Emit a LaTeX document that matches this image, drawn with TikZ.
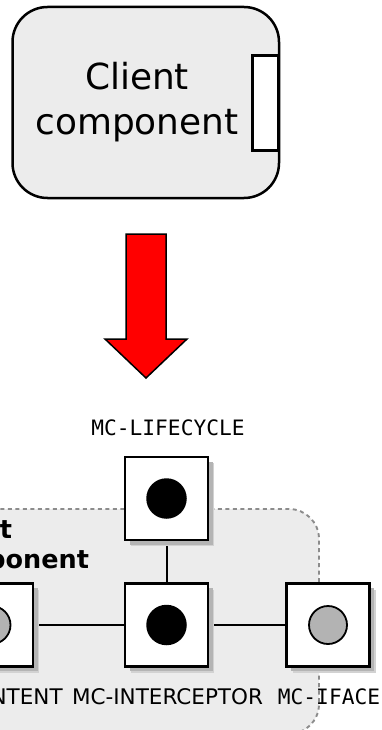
\documentclass[tikz,border=0pt]{standalone}
\usepackage{fontspec}
\setmainfont{DejaVu Sans}
\setmonofont{DejaVu Sans Mono}
\usetikzlibrary{shadows}
\definecolor{boxgray}{HTML}{ECECEC}
\definecolor{dotgray}{HTML}{B3B3B3}
\definecolor{shadowgray}{HTML}{B4B4B4}
\definecolor{dashgray}{HTML}{8C8C8C}
\definecolor{arrowred}{HTML}{FF0000}
\pgfdeclarelayer{region}
\pgfdeclarelayer{wires}
\pgfsetlayers{region,wires,main}
\tikzset{
  ctrlbox/.style={draw, line width=2.2pt, fill=white, minimum width=83pt,
    minimum height=83pt, inner sep=0pt,
    general shadow={fill=shadowgray!60, shadow xshift=6pt, shadow yshift=-6pt},
    general shadow={fill=shadowgray, shadow xshift=4.5pt, shadow yshift=-4.5pt}},
  blackdot/.style={circle, fill=black, minimum size=40.5pt, inner sep=0pt},
  graydot/.style={circle, draw, line width=1.8pt, fill=dotgray, minimum size=38pt, inner sep=0pt},
  wire/.style={line width=2pt},
  monolabel/.style={font=\ttfamily\fontsize{21.2}{25}\selectfont, anchor=base, inner sep=0pt},
  proplabel/.style={font=\fontsize{21.5}{25}\selectfont, anchor=base, inner sep=0pt},
}
\begin{document}
\begin{tikzpicture}[x=1pt, y=-1pt]
\useasboundingbox (0,0) rectangle (382,730);

% client component
\draw[line width=2.5pt, fill=boxgray, rounded corners=35pt] (12.5,7) rectangle (279,198);
\node[draw, line width=2.5pt, fill=white, minimum width=26pt, minimum height=95pt, inner sep=0pt]
  (port) at (265.5,103) {};
\node[font=\fontsize{35.9}{45}\selectfont, align=center, anchor=base, inner sep=0pt]
  (clientname) at (137,135) {Client\\component};

% transformation arrow
\draw[line width=1.5pt, fill=arrowred, line join=miter]
  (126,234) -- (166,234) -- (166,339) -- (187,339) -- (146,378) -- (105,339) -- (126,339) -- cycle;

% membrane of the component
\begin{pgfonlayer}{region}
\draw[dashgray, line width=1.9pt, dash pattern=on 4pt off 3.5pt, fill=boxgray, rounded corners=30pt]
  (-110,509) rectangle (319,734);
\end{pgfonlayer}
\node[font=\bfseries\fontsize{25.5}{30}\selectfont, align=left, anchor=base west, inner sep=0pt]
  (membrane) at (-72,568) {Client\\component};

% controllers
\node[ctrlbox] (lifecycle) at (166.5,498.5) {};
\node[ctrlbox] (interceptor) at (166.5,625) {};
\node[ctrlbox] (iface) at (328,625) {};
\node[ctrlbox] (content) at (-8.5,625) {};
\node[blackdot] (lifecycledot) at (lifecycle) {};
\node[blackdot] (interceptordot) at (interceptor) {};
\node[graydot] (ifacedot) at (iface) {};
\node[graydot] (contentdot) at (content) {};

\begin{pgfonlayer}{wires}
\draw[wire] (content) -- (interceptor);
\draw[wire] (interceptor) -- (iface);
\draw[wire] (lifecycle) -- (interceptor);
\end{pgfonlayer}

% controller names
\node[monolabel] (lifecyclename) at (168,435) {MC-LIFECYCLE};
\node[proplabel] (contentname) at (-10,704) {MC-CONTENT};
\node[proplabel] (interceptorname) at (167.5,704) {MC-INTERCEPTOR};
\node[monolabel] (ifacename) at (329,704) {MC-IFACE};
\end{tikzpicture}
\end{document}
